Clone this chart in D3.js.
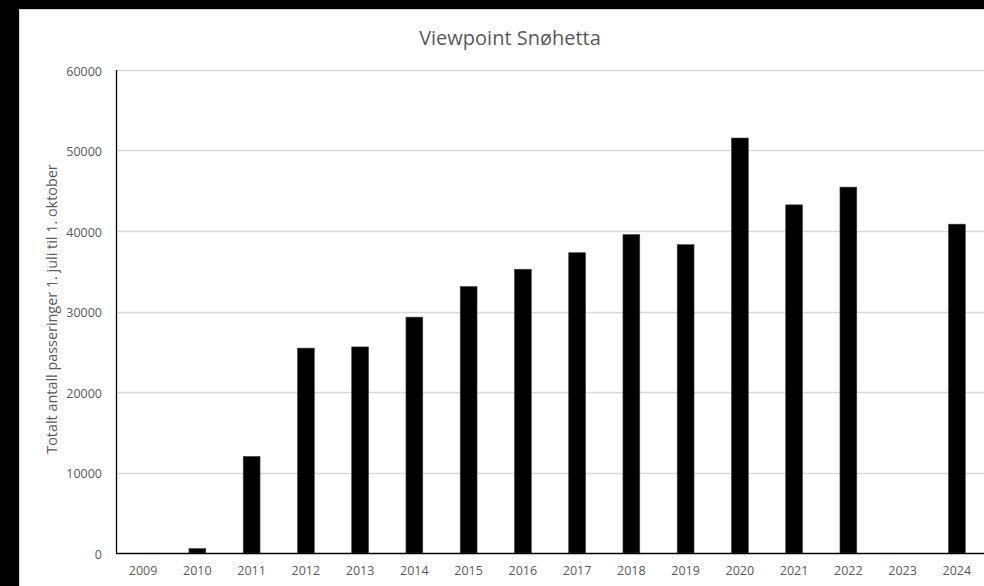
<!DOCTYPE html>
<html><head><meta charset="utf-8">
<script src="https://cdn.jsdelivr.net/npm/d3@7"></script>
<style>
html,body{margin:0;padding:0;background:#000;}
svg{display:block;}
text{font-family:"Open Sans",sans-serif;fill:#595959;}
</style></head>
<body>
<svg id="c" width="984" height="586"></svg>
<script>
const title = "Viewpoint Snøhetta";
const yTitle = "Totalt antall passeringer 1. juli til 1. oktober";
const years = ["2009","2010","2011","2012","2013","2014","2015","2016","2017","2018","2019","2020","2021","2022","2023","2024"];
const passings = [null,550,12000,25450,25600,29300,33100,35250,37300,39550,38300,51550,43250,45450,null,40850];
const yTicks = [0,10000,20000,30000,40000,50000,60000];

const svg = d3.select("#c");
svg.append("rect").attr("x",19.5).attr("y",9.5).attr("width",1000).attr("height",600)
  .attr("fill","#fff").attr("stroke","#d9d9d9");

const x = d3.scaleBand().domain(years).range([116,984]).paddingInner(0.69).paddingOuter(0.345);
const y = d3.scaleLinear().domain([0,60000]).range([553,70]);

// gridlines
svg.append("g").selectAll("line").data(yTicks.filter(d=>d>0)).join("line")
  .attr("x1",116).attr("x2",984).attr("y1",d=>Math.round(y(d))+0.5).attr("y2",d=>Math.round(y(d))+0.5)
  .attr("stroke","#d9d9d9").attr("stroke-width",1.3);

// bars
svg.append("g").selectAll("rect").data(years.map((k,i)=>({k,v:passings[i]})).filter(d=>d.v!=null)).join("rect")
  .attr("x",d=>x(d.k)).attr("width",x.bandwidth())
  .attr("y",d=>y(d.v)).attr("height",d=>y(0)-y(d.v))
  .attr("fill","#000").attr("stroke","#404040").attr("stroke-width",0.6);

// axes lines
svg.append("line").attr("x1",116.5).attr("x2",116.5).attr("y1",70).attr("y2",553).attr("stroke","#000").attr("stroke-width",1.3);
svg.append("line").attr("x1",116).attr("x2",984).attr("y1",553.5).attr("y2",553.5).attr("stroke","#000").attr("stroke-width",1.3);

// y tick labels
const yAxis = d3.axisLeft(y).tickValues(yTicks).tickSize(0).tickPadding(14).tickFormat(d3.format("d"));
const ga = svg.append("g").attr("transform","translate(116,1)").call(yAxis);
ga.select(".domain").remove();
ga.selectAll("text").style("font-family","'Open Sans',sans-serif").style("font-size","12.5px").attr("fill","#595959");

// x tick labels
const xAxis = d3.axisBottom(x).tickSize(0).tickPadding(13);
const gx = svg.append("g").attr("transform","translate(0,553)").call(xAxis);
gx.select(".domain").remove();
gx.selectAll("text").style("font-family","'Open Sans',sans-serif").style("font-size","12.5px").attr("fill","#595959");

// title
svg.append("text").attr("x",510).attr("y",45).attr("text-anchor","middle")
  .style("font-size","20px").text(title);

// y title
svg.append("text").attr("transform","translate(57,309) rotate(-90)").attr("text-anchor","middle")
  .style("font-size","14.4px").text(yTitle);
</script>
</body></html>
